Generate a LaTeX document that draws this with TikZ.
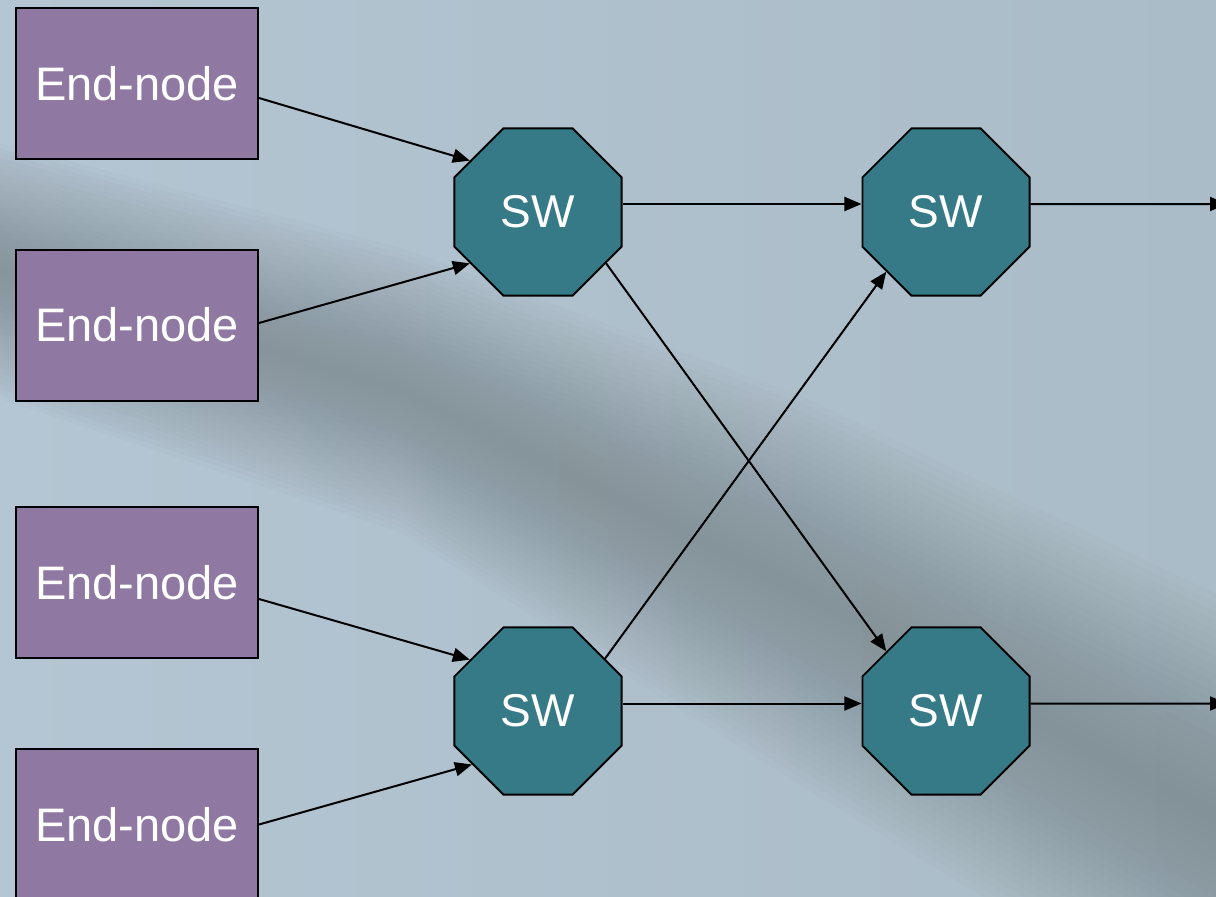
\documentclass[tikz,border=0pt]{standalone}
\usepackage{fontspec}
\setmainfont{Liberation Sans}
\usetikzlibrary{shapes.geometric,arrows.meta,calc}
\definecolor{bgl}{RGB}{180,197,211}
\definecolor{bgr}{RGB}{170,188,199}
\definecolor{bandc}{RGB}{112,124,128}
\definecolor{endc}{RGB}{143,121,162}
\definecolor{swc}{RGB}{54,122,135}
\tikzset{
  endbox/.style={draw=black, line width=2pt, fill=endc, minimum width=242pt,
    minimum height=151pt, inner sep=0pt, text=white, font=\fontsize{47}{56}\selectfont},
  swbox/.style={draw=black, line width=1.8pt, fill=swc, regular polygon,
    regular polygon sides=8, minimum size=181pt, inner sep=0pt, text=white,
    font=\fontsize{46}{56}\selectfont},
  link/.style={line width=2pt, draw=black, -{Triangle[length=17pt,width=14pt]}},
  bandlayer/.style={fill=bandc, opacity=0.03}
}
\begin{document}
\begin{tikzpicture}[x=1pt,y=-1pt]
\useasboundingbox (0,0) rectangle (1216,897);
\shade[left color=bgl, right color=bgr] (0,0) rectangle (1216,897);
\foreach \k in {0.06,0.12,...,1.55} {
  \fill[bandlayer] (-20,{265-85*\k}) -- (400,{390-95*\k}) -- (800,{590-130*\k}) -- (1240,{830-150*\k})
    -- (1240,{830+150*\k}) -- (800,{590+130*\k}) -- (400,{390+95*\k}) -- (-20,{265+85*\k}) -- cycle;
}
\node[endbox] (e1) at (137,83.5) {End-node};
\node[endbox] (e2) at (137,325) {End-node};
\node[endbox] (e3) at (137,582.5) {End-node};
\node[endbox] (e4) at (137,824.5) {End-node};
\node[swbox] (s1) at (538,212) {SW};
\node[swbox] (s2) at (946,212) {SW};
\node[swbox] (s3) at (538,711) {SW};
\node[swbox] (s4) at (946,711) {SW};
\coordinate (o1) at (1227,204);
\coordinate (o2) at (1227,703.5);
\draw[link] ([yshift=-14.5pt]e1.east) -- (s1.143);
\draw[link] ([yshift=2pt]e2.east) -- (s1.217);
\draw[link] ([yshift=-16.5pt]e3.east) -- (s3.143);
\draw[link] (e4.east) -- (s3.219);
\draw[link] ([yshift=8pt]s1.east) -- ([yshift=8pt]s2.west);
\draw[link] ([yshift=7.5pt]s3.east) -- ([yshift=7.5pt]s4.west);
\draw[link] (s1.323) -- (s4.135);
\draw[link] (s3.38) -- (s2.225);
\draw[link] ([yshift=8pt]s2.east) -- (o1);
\draw[link] ([yshift=7.5pt]s4.east) -- (o2);
\end{tikzpicture}
\end{document}
